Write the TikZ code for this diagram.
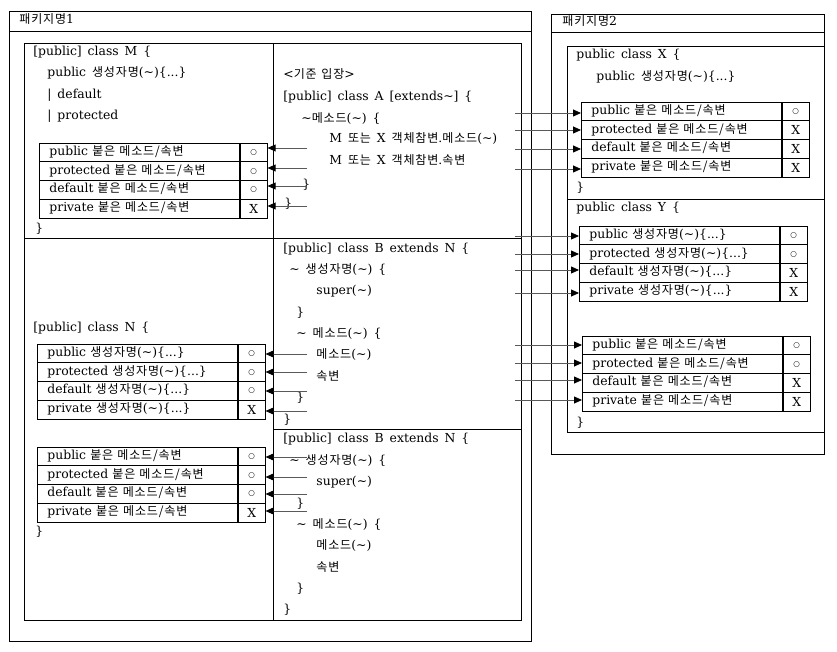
\documentclass[tikz,border=0pt]{standalone}
\usepackage{fontspec}
\setmainfont[WordSpace=1.5]{DejaVu Serif}
\newfontfamily\krfont[Scale=0.97, WordSpace=1.3, LetterSpace=7]{Noto Sans CJK KR}
\newfontfamily\symfont{DejaVu Sans}
\usepackage{tikz}
\usetikzlibrary{arrows.meta}
\newcommand\ko[1]{{\krfont #1}}
\newcommand\tld{\textasciitilde}
\newcommand\yes{{\symfont\fontsize{7.5}{8}\selectfont ○}}

\begin{document}
\begin{tikzpicture}[x=1pt, y=-1pt, line width=0.8pt, font=\fontsize{12.4}{14}\selectfont,
    code/.style={anchor=west, inner sep=0pt, text height=9pt, text depth=3pt},
    row/.style={draw, anchor=west, inner xsep=10pt, inner ysep=0pt, text width=180pt, align=left, minimum height=18.75pt, text height=9pt, text depth=3pt},
    sym/.style={draw, anchor=west, inner sep=0pt, minimum width=27pt, minimum height=18.75pt},
    arr/.style={draw=black!65, -{Triangle[length=8pt, width=7pt, color=black, fill=black]}}]
    		\useasboundingbox (0,0) rectangle (837,652);
    		% Packages and classes:
    		\draw (9,11) rectangle (531,641);
    		\draw (9,31) -- (531,31);
    		\node[code](P1) at (19,21){\ko{패키지명}1};
    		\draw (24,43) rectangle (521,620);
    		\draw (273,43) -- (273,620);
    		\draw (24,238) -- (521,238);
    		\draw (273,429) -- (521,429);
    		\draw (551,14) rectangle (824,454);
    		\draw (551,32) -- (824,32);
    		\node[code](P2) at (562,23){\ko{패키지명}2};
    		\draw (567,46) rectangle (824,432);
    		\draw (567,199) -- (824,199);
    		% Class M:
    		\node[code](M0) at (33,53){[public] class M \{};
    		\node[code] at (47,74){public \ko{생성자명}(\tld)\{...\}};
    		\node[code] at (47,96){| default};
    		\node[code] at (47,117){| protected};
    		\node[row](M1) at (39,152.4){public \ko{붙은 메소드/속변}};
    		\node[sym](M1s) at (M1.east){\yes};
    		\node[row](M2) at (39,171.1){protected \ko{붙은 메소드/속변}};
    		\node[sym](M2s) at (M2.east){\yes};
    		\node[row](M3) at (39,189.9){default \ko{붙은 메소드/속변}};
    		\node[sym](M3s) at (M3.east){\yes};
    		\node[row](M4) at (39,208.6){private \ko{붙은 메소드/속변}};
    		\node[sym](M4s) at (M4.east){X};
    		\node[code] at (35,230){\}};
    		% Class N:
    		\node[code](N0) at (33,328){[public] class N \{};
    		\node[row](Na1) at (37,353.4){public \ko{생성자명}(\tld)\{...\}};
    		\node[sym](Na1s) at (Na1.east){\yes};
    		\node[row](Na2) at (37,372.1){protected \ko{생성자명}(\tld)\{...\}};
    		\node[sym](Na2s) at (Na2.east){\yes};
    		\node[row](Na3) at (37,390.9){default \ko{생성자명}(\tld)\{...\}};
    		\node[sym](Na3s) at (Na3.east){\yes};
    		\node[row](Na4) at (37,409.6){private \ko{생성자명}(\tld)\{...\}};
    		\node[sym](Na4s) at (Na4.east){X};
    		\node[row](Nb1) at (37,456.4){public \ko{붙은 메소드/속변}};
    		\node[sym](Nb1s) at (Nb1.east){\yes};
    		\node[row](Nb2) at (37,475.1){protected \ko{붙은 메소드/속변}};
    		\node[sym](Nb2s) at (Nb2.east){\yes};
    		\node[row](Nb3) at (37,493.9){default \ko{붙은 메소드/속변}};
    		\node[sym](Nb3s) at (Nb3.east){\yes};
    		\node[row](Nb4) at (37,512.6){private \ko{붙은 메소드/속변}};
    		\node[sym](Nb4s) at (Nb4.east){X};
    		\node[code] at (35,532){\}};
    		% Class A:
    		\node[code](A0) at (283,76){<\ko{기준 입장}>};
    		\node[code] at (283,98){[public] class A [extends\tld] \{};
    		\node[code] at (301,120){\tld\ko{메소드}(\tld) \{};
    		\node[code] at (329,140){M \ko{또는} X \ko{객체참변}.\ko{메소드}(\tld)};
    		\node[code] at (329,162){M \ko{또는} X \ko{객체참변}.\ko{속변}};
    		\node[code] at (302,186){\}};
    		\node[code] at (284,205){\}};
    		% Class B (twice):
    		\node[code](B0) at (283,249){[public] class B extends N \{};
    		\node[code] at (289,270){\tld{} \ko{생성자명}(\tld) \{};
    		\node[code] at (316,291){super(\tld)};
    		\node[code] at (296,313){\}};
    		\node[code] at (296,334){\tld{} \ko{메소드}(\tld) \{};
    		\node[code] at (316,355){\ko{메소드}(\tld)};
    		\node[code] at (316,377){\ko{속변}};
    		\node[code] at (296,398){\}};
    		\node[code] at (283,420){\}};
    		\node[code](C0) at (283,439){[public] class B extends N \{};
    		\node[code] at (289,461){\tld{} \ko{생성자명}(\tld) \{};
    		\node[code] at (316,482){super(\tld)};
    		\node[code] at (296,504){\}};
    		\node[code] at (296,525){\tld{} \ko{메소드}(\tld) \{};
    		\node[code] at (316,546){\ko{메소드}(\tld)};
    		\node[code] at (316,568){\ko{속변}};
    		\node[code] at (296,589){\}};
    		\node[code] at (283,610){\}};
    		% Class X:
    		\node[code](X0) at (576,56){public class X \{};
    		\node[code] at (596,78){public \ko{생성자명}(\tld)\{...\}};
    		\node[row](X1) at (581,111.4){public \ko{붙은 메소드/속변}};
    		\node[sym](X1s) at (X1.east){\yes};
    		\node[row](X2) at (581,130.1){protected \ko{붙은 메소드/속변}};
    		\node[sym](X2s) at (X2.east){X};
    		\node[row](X3) at (581,148.9){default \ko{붙은 메소드/속변}};
    		\node[sym](X3s) at (X3.east){X};
    		\node[row](X4) at (581,167.6){private \ko{붙은 메소드/속변}};
    		\node[sym](X4s) at (X4.east){X};
    		\node[code] at (576,189){\}};
    		% Class Y:
    		\node[code](Y0) at (576,209){public class Y \{};
    		\node[row](Ya1) at (579,235.4){public \ko{생성자명}(\tld)\{...\}};
    		\node[sym](Ya1s) at (Ya1.east){\yes};
    		\node[row](Ya2) at (579,254.1){protected \ko{생성자명}(\tld)\{...\}};
    		\node[sym](Ya2s) at (Ya2.east){\yes};
    		\node[row](Ya3) at (579,272.9){default \ko{생성자명}(\tld)\{...\}};
    		\node[sym](Ya3s) at (Ya3.east){X};
    		\node[row](Ya4) at (579,291.6){private \ko{생성자명}(\tld)\{...\}};
    		\node[sym](Ya4s) at (Ya4.east){X};
    		\node[row](Yb1) at (582,345.4){public \ko{붙은 메소드/속변}};
    		\node[sym](Yb1s) at (Yb1.east){\yes};
    		\node[row](Yb2) at (582,364.1){protected \ko{붙은 메소드/속변}};
    		\node[sym](Yb2s) at (Yb2.east){\yes};
    		\node[row](Yb3) at (582,382.9){default \ko{붙은 메소드/속변}};
    		\node[sym](Yb3s) at (Yb3.east){X};
    		\node[row](Yb4) at (582,401.6){private \ko{붙은 메소드/속변}};
    		\node[sym](Yb4s) at (Yb4.east){X};
    		\node[code] at (576,423){\}};
    		% Access arrows:
    		\coordinate (am1) at (307,148);
    		\coordinate (am2) at (307,168);
    		\coordinate (am3) at (307,186);
    		\coordinate (am4) at (307,206);
    		\draw[arr] (am1) -- (am1 -| M1s.east);
    		\draw[arr] (am2) -- (am2 -| M2s.east);
    		\draw[arr] (am3) -- (am3 -| M3s.east);
    		\draw[arr] (am4) -- (am4 -| M4s.east);
    		\coordinate (ax1) at (515,113);
    		\coordinate (ax2) at (515,130);
    		\coordinate (ax3) at (515,149);
    		\coordinate (ax4) at (515,169);
    		\draw[arr] (ax1) -- (ax1 -| X1.west);
    		\draw[arr] (ax2) -- (ax2 -| X2.west);
    		\draw[arr] (ax3) -- (ax3 -| X3.west);
    		\draw[arr] (ax4) -- (ax4 -| X4.west);
    		\coordinate (ay1) at (515,236);
    		\coordinate (ay2) at (515,254);
    		\coordinate (ay3) at (515,270);
    		\coordinate (ay4) at (515,293);
    		\draw[arr] (ay1) -- (ay1 -| Ya1.west);
    		\draw[arr] (ay2) -- (ay2 -| Ya2.west);
    		\draw[arr] (ay3) -- (ay3 -| Ya3.west);
    		\draw[arr] (ay4) -- (ay4 -| Ya4.west);
    		\coordinate (az1) at (515,345);
    		\coordinate (az2) at (515,363);
    		\coordinate (az3) at (515,380);
    		\coordinate (az4) at (515,400);
    		\draw[arr] (az1) -- (az1 -| Yb1.west);
    		\draw[arr] (az2) -- (az2 -| Yb2.west);
    		\draw[arr] (az3) -- (az3 -| Yb3.west);
    		\draw[arr] (az4) -- (az4 -| Yb4.west);
    		\coordinate (an1) at (307,354);
    		\coordinate (an2) at (307,372);
    		\coordinate (an3) at (307,391);
    		\coordinate (an4) at (307,411);
    		\draw[arr] (an1) -- (an1 -| Na1s.east);
    		\draw[arr] (an2) -- (an2 -| Na2s.east);
    		\draw[arr] (an3) -- (an3 -| Na3s.east);
    		\draw[arr] (an4) -- (an4 -| Na4s.east);
    		\coordinate (ao1) at (307,457);
    		\coordinate (ao2) at (307,477);
    		\coordinate (ao3) at (307,494);
    		\coordinate (ao4) at (307,511);
    		\draw[arr] (ao1) -- (ao1 -| Nb1s.east);
    		\draw[arr] (ao2) -- (ao2 -| Nb2s.east);
    		\draw[arr] (ao3) -- (ao3 -| Nb3s.east);
    		\draw[arr] (ao4) -- (ao4 -| Nb4s.east);
    	\end{tikzpicture}
\end{document}
